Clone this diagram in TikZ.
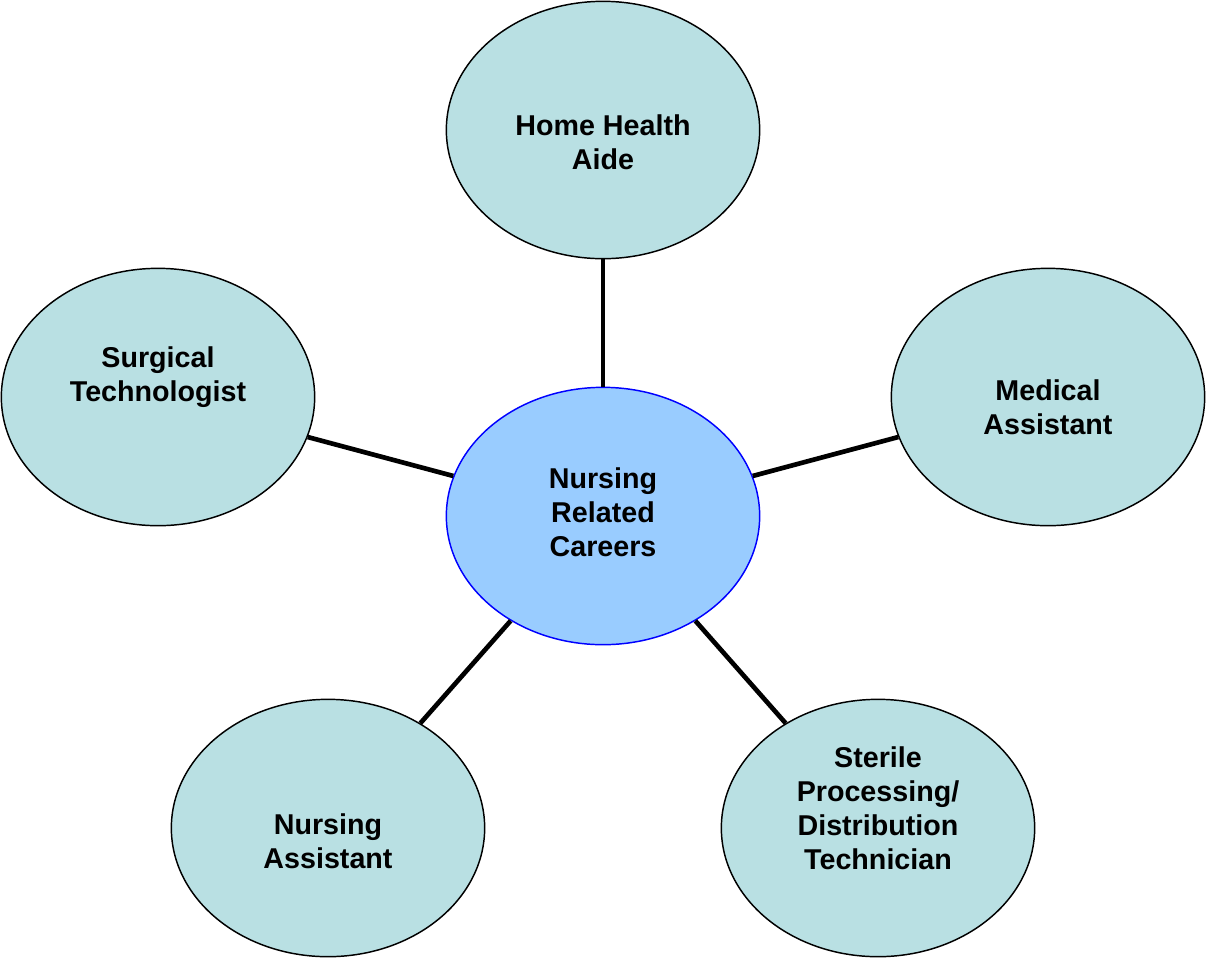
\documentclass[tikz,border=0pt]{standalone}
\usepackage{fontspec}
\setmainfont{Liberation Sans}
\usetikzlibrary{positioning, shapes.geometric}

\definecolor{tealfill}{HTML}{B9E0E3}
\definecolor{hubfill}{HTML}{99CCFF}

\begin{document}
\begin{tikzpicture}[
		x=0.75pt, y=-0.75pt,
		career/.style={ellipse, draw, line width=1.1pt, fill=tealfill, inner sep=0pt, minimum width=235pt, minimum height=193pt},
		hub/.style={career, draw=blue, fill=hubfill},
		txt/.style={align=center, font=\fontsize{21.5}{25.5}\selectfont\bfseries},
		spoke/.style={line width=3.5pt}
	]

	\useasboundingbox (0,0) rectangle (1206,958);

	\node[hub, label={[txt, yshift=3pt]center:Nursing\\Related\\Careers}] (hub) at (603,516) {};
	\node[career, label={[txt, yshift=-9pt]center:Home Health\\Aide}] (home) at (603,130) {};
	\node[career, label={[txt, yshift=15pt]center:Surgical\\Technologist}] (surg) at (158,397) {};
	\node[career, label={[txt, yshift=-8pt]center:Medical\\Assistant}] (med) at (1048,397) {};
	\node[career, label={[txt, yshift=-10pt]center:Nursing\\Assistant}] (nurse) at (328,828) {};
	\node[career, label={[txt, yshift=15pt]center:Sterile\\Processing/\\Distribution\\Technician}] (steril) at (878,828) {};

	\foreach \j in {home, surg, med, nurse, steril}
		\draw[spoke] (hub) -- (\j);

\end{tikzpicture}
\end{document}
